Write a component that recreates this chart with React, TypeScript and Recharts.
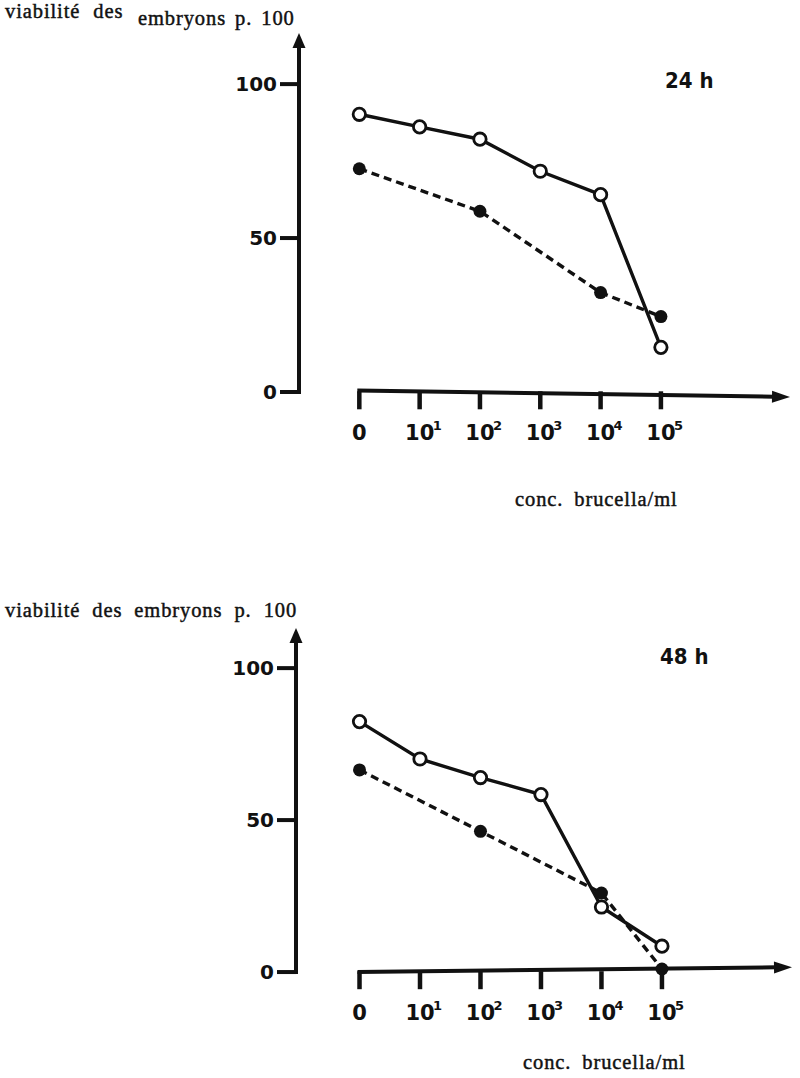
import { LineChart, Line, XAxis, YAxis, ReferenceLine } from 'recharts'

// concentration steps: 0, 10^1 ... 10^5
const CONC_POS = [0, 1, 2, 3, 4, 5]
const CONC_EXP = ['', '1', '2', '3', '4', '5']
const Y_TICKS = [0, 50, 100]

// viabilité des embryons p. 100
const OPEN_24H = [90.2, 86.1, 82.1, 71.7, 64.1, 14.5]
const FILLED_24H = [72.5, null, 58.7, null, 32.3, 24.5]
const OPEN_48H = [82.4, 70.1, 64.0, 58.4, 21.4, 8.5]
const FILLED_48H = [66.5, null, 46.3, null, 26.0, 1.0]

const INK = '#111'
const SERIF = "'Liberation Serif', 'Times New Roman', serif"
const BOLD_SANS = "'DejaVu Sans', 'Liberation Sans', sans-serif"
const NARROW = "'DejaVu Sans Condensed', 'Liberation Sans Narrow', 'DejaVu Sans', sans-serif"

const toPoints = (vals: (number | null)[]) => CONC_POS.map((x, i) => ({ x, y: vals[i] }))

function ArrowLine(props: any) {
  const { x1, y1, x2, y2, head = 16, half = 6.5 } = props
  const dx = x2 - x1
  const dy = y2 - y1
  const len = Math.hypot(dx, dy) || 1
  const ux = dx / len
  const uy = dy / len
  const bx = x2 - ux * head
  const by = y2 - uy * head
  return (
    <g>
      <line x1={x1 - ux * 2} y1={y1 - uy * 2} x2={bx + ux * 2} y2={by + uy * 2} stroke={INK} strokeWidth={4} />
      <polygon
        points={`${x2},${y2} ${bx - uy * half},${by + ux * half} ${bx + uy * half},${by - ux * half}`}
        fill={INK}
      />
    </g>
  )
}

function ConcTick(props: any) {
  const { x, y, payload } = props
  const i = CONC_POS.indexOf(payload.value)
  const exp = CONC_EXP[i]
  return (
    <g>
      <line x1={x} y1={y - 13} x2={x} y2={y + 5} stroke={INK} strokeWidth={4.5} />
      <text x={x} y={y + 36} textAnchor="middle" fontFamily={BOLD_SANS} fontWeight="bold" fontSize={21} fill={INK}>
        {exp ? '10' : '0'}
      </text>
      {exp && (
        <text x={x + 13} y={y + 26} fontFamily={BOLD_SANS} fontWeight="bold" fontSize={13} fill={INK}>
          {exp}
        </text>
      )}
    </g>
  )
}

function PctTick(props: any) {
  const { x, y, payload } = props
  return (
    <text x={x} y={y} dy="0.36em" textAnchor="end" fontFamily={BOLD_SANS} fontWeight="bold" fontSize={20} fill={INK}>
      {payload.value}
    </text>
  )
}

function FilledDot(props: any) {
  const { cx, cy, index } = props
  if (cx == null || cy == null) return <g key={`f${index}`} />
  return <circle key={`f${index}`} cx={cx} cy={cy} r={6.5} fill={INK} />
}

function OpenDot(props: any) {
  const { cx, cy, index } = props
  if (cx == null || cy == null) return <g key={`o${index}`} />
  return <circle key={`o${index}`} cx={cx} cy={cy} r={6.2} fill="#fff" stroke={INK} strokeWidth={2.8} />
}

type PanelProps = {
  open: (number | null)[]
  filled: (number | null)[]
  plotTop: number
  plotBottom: number
  plotLeft: number
  plotRight: number
  xDomain: [number, number]
  yDomain: [number, number]
  axisStart: number
  axisEnd: number
}

function Panel(p: PanelProps) {
  const W = 800
  const H = 1078
  return (
    <div style={{ position: 'absolute', left: 0, top: 0 }}>
      <LineChart
        width={W}
        height={H}
        margin={{ top: p.plotTop, left: p.plotLeft - 60, right: W - p.plotRight, bottom: H - p.plotBottom - 30 }}
      >
        <XAxis
          type="number"
          dataKey="x"
          domain={p.xDomain}
          allowDataOverflow
          ticks={CONC_POS}
          interval={0}
          axisLine={false}
          tickLine={false}
          tickSize={0}
          tickMargin={0}
          height={30}
          tick={<ConcTick />}
        />
        <YAxis
          type="number"
          dataKey="y"
          domain={p.yDomain}
          allowDataOverflow
          ticks={Y_TICKS}
          interval={0}
          axisLine={false}
          tickLine={{ stroke: INK, strokeWidth: 4 }}
          tickSize={19}
          tickMargin={3}
          width={60}
          tick={<PctTick />}
        />
        <ReferenceLine
          segment={[{ x: p.xDomain[0], y: 0 }, { x: p.xDomain[0], y: p.yDomain[1] }]}
          ifOverflow="visible"
          shape={(sp: any) => <ArrowLine {...sp} head={15} half={6.5} />}
        />
        <ReferenceLine
          segment={[{ x: 0, y: p.axisStart }, { x: p.xDomain[1], y: p.axisEnd }]}
          ifOverflow="visible"
          shape={(sp: any) => <ArrowLine {...sp} head={18} half={6} />}
        />
        <Line
          data={toPoints(p.filled)}
          dataKey="y"
          stroke={INK}
          strokeWidth={3.4}
          strokeDasharray="8 5"
          connectNulls
          dot={FilledDot}
          activeDot={false}
          isAnimationActive={false}
        />
        <Line
          data={toPoints(p.open)}
          dataKey="y"
          stroke={INK}
          strokeWidth={3.4}
          dot={OpenDot}
          activeDot={false}
          isAnimationActive={false}
        />
      </LineChart>
    </div>
  )
}

export default function App() {
  return (
    <div style={{ position: 'absolute', left: 0, top: 0, width: 800, height: 1078, background: '#fff' }}>
      <Panel
        open={OPEN_24H}
        filled={FILLED_24H}
        plotTop={33}
        plotBottom={404.3}
        plotLeft={299}
        plotRight={790}
        xDomain={[-1, 7.14]}
        yDomain={[-4, 116.6]}
        axisStart={0.5}
        axisEnd={-1.6}
      />
      <Panel
        open={OPEN_48H}
        filled={FILLED_48H}
        plotTop={628}
        plotBottom={984.2}
        plotLeft={296}
        plotRight={792}
        xDomain={[-1.05, 7.15]}
        yDomain={[-4, 113.2]}
        axisStart={0}
        axisEnd={1.6}
      />
      <svg width={800} height={1078} style={{ position: 'absolute', left: 0, top: 0, pointerEvents: 'none' }}>
        <g fontFamily={SERIF} fontSize={20.5} fill={INK} stroke={INK} strokeWidth={0.45} letterSpacing={0.9}>
          <text x={5} y={18} wordSpacing={7}>viabilité des</text>
          <text x={138} y={25} wordSpacing={3}>embryons p. 100</text>
          <text x={515} y={506} wordSpacing={5}>conc. brucella/ml</text>
          <text x={5} y={617} wordSpacing={6}>viabilité des embryons p. 100</text>
          <text x={523} y={1069} wordSpacing={5}>conc. brucella/ml</text>
        </g>
        <g fontFamily={NARROW} fontWeight="bold" fontSize={22} fill={INK}>
          <text x={665} y={88}>24 h</text>
          <text x={660} y={664}>48 h</text>
        </g>
      </svg>
    </div>
  )
}
